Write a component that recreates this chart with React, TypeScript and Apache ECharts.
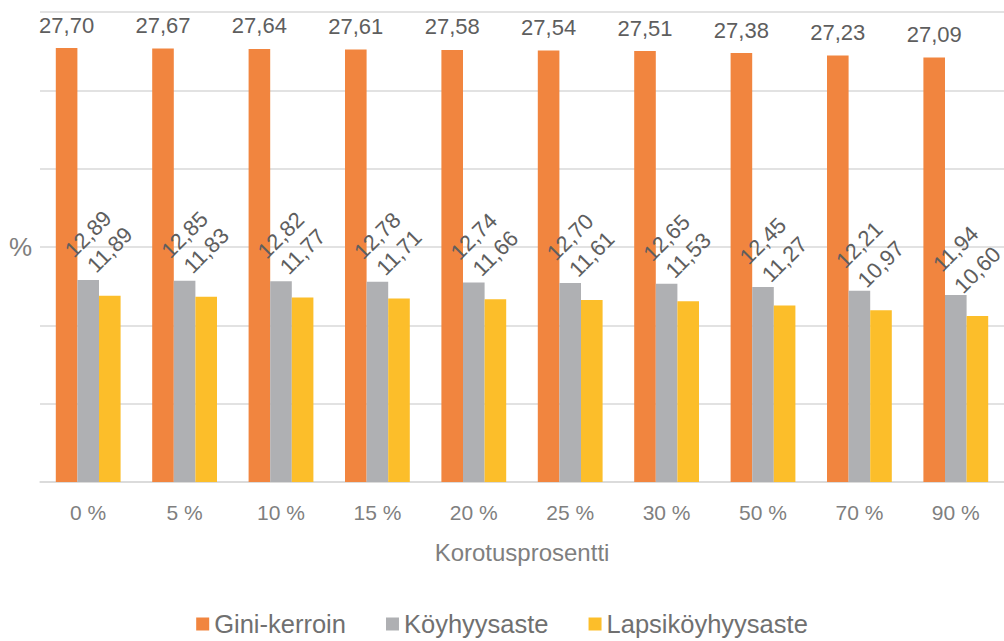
import React, { useEffect, useRef } from "react";
import * as echarts from "echarts";

const categories = ["0 %", "5 %", "10 %", "15 %", "20 %", "25 %", "30 %", "50 %", "70 %", "90 %"];
const gini = [27.7, 27.67, 27.64, 27.61, 27.58, 27.54, 27.51, 27.38, 27.23, 27.09];
const koyhyys = [12.89, 12.85, 12.82, 12.78, 12.74, 12.7, 12.65, 12.45, 12.21, 11.94];
const lapsikoyhyys = [11.89, 11.83, 11.77, 11.71, 11.66, 11.61, 11.53, 11.27, 10.97, 10.6];
const seriesNames = ["Gini-kerroin", "Köyhyysaste", "Lapsiköyhyysaste"];
const colors = ["#F1853F", "#AFB0B3", "#FCBE2A"];

const FONT = "Liberation Sans";
const fmt = (p: any) => Number(p.value).toFixed(2).replace(".", ",");

export default function App() {
  const ref = useRef<HTMLDivElement>(null);
  useEffect(() => {
    if (!ref.current) return;
    const chart = echarts.init(ref.current, null, { renderer: "svg" });
    const rotatedLabel = {
      show: true,
      position: "top",
      rotate: 45,
      align: "center",
      verticalAlign: "middle",
      distance: 46,
      color: "#5E5E5E",
      fontSize: 22,
      fontFamily: FONT,
      formatter: fmt,
    };
    chart.setOption({
      animation: false,
      textStyle: { fontFamily: FONT },
      grid: { left: 40, top: 12, width: 970, height: 470, containLabel: false },
      legend: {
        bottom: -1,
        left: "center",
        itemWidth: 13,
        itemHeight: 13,
        itemGap: 40,
        icon: "rect",
        textStyle: { color: "#707070", fontSize: 25.5, fontFamily: FONT },
        data: seriesNames,
      },
      xAxis: {
        type: "category",
        data: categories,
        axisLine: { lineStyle: { color: "#D9D9D9", width: 1.5 } },
        axisTick: { show: false },
        axisLabel: { color: "#7F7F7F", fontSize: 21, margin: 20, fontFamily: FONT },
        name: "Korotusprosentti",
        nameLocation: "middle",
        nameGap: 58,
        nameTextStyle: { color: "#7F7F7F", fontSize: 24, fontFamily: FONT },
      },
      yAxis: {
        type: "value",
        min: 0,
        max: 30,
        interval: 5,
        axisLabel: { show: false },
        axisLine: { show: false },
        axisTick: { show: false },
        splitLine: { lineStyle: { color: "#D9D9D9", width: 1.5 } },
        name: "%",
        nameLocation: "middle",
        nameRotate: 0,
        nameGap: 8,
        nameTextStyle: { color: "#7F7F7F", fontSize: 26, fontFamily: FONT, align: "right" },
      },
      series: [
        {
          name: seriesNames[0],
          type: "bar",
          data: gini,
          barWidth: 21.6,
          barGap: "0%",
          itemStyle: { color: colors[0] },
          label: {
            show: true,
            position: "top",
            distance: 12,
            color: "#5E5E5E",
            fontSize: 22,
            fontFamily: FONT,
            formatter: fmt,
          },
        },
        {
          name: seriesNames[1],
          type: "bar",
          data: koyhyys,
          barWidth: 21.6,
          barGap: "0%",
          itemStyle: { color: colors[1] },
          label: rotatedLabel,
        },
        {
          name: seriesNames[2],
          type: "bar",
          data: lapsikoyhyys,
          barWidth: 21.6,
          barGap: "0%",
          itemStyle: { color: colors[2] },
          label: rotatedLabel,
        },
      ],
    });
    return () => chart.dispose();
  }, []);
  return (
    <div
      ref={ref}
      style={{ position: "fixed", left: 0, top: 0, width: 1004, height: 641, background: "#fff" }}
    />
  );
}
